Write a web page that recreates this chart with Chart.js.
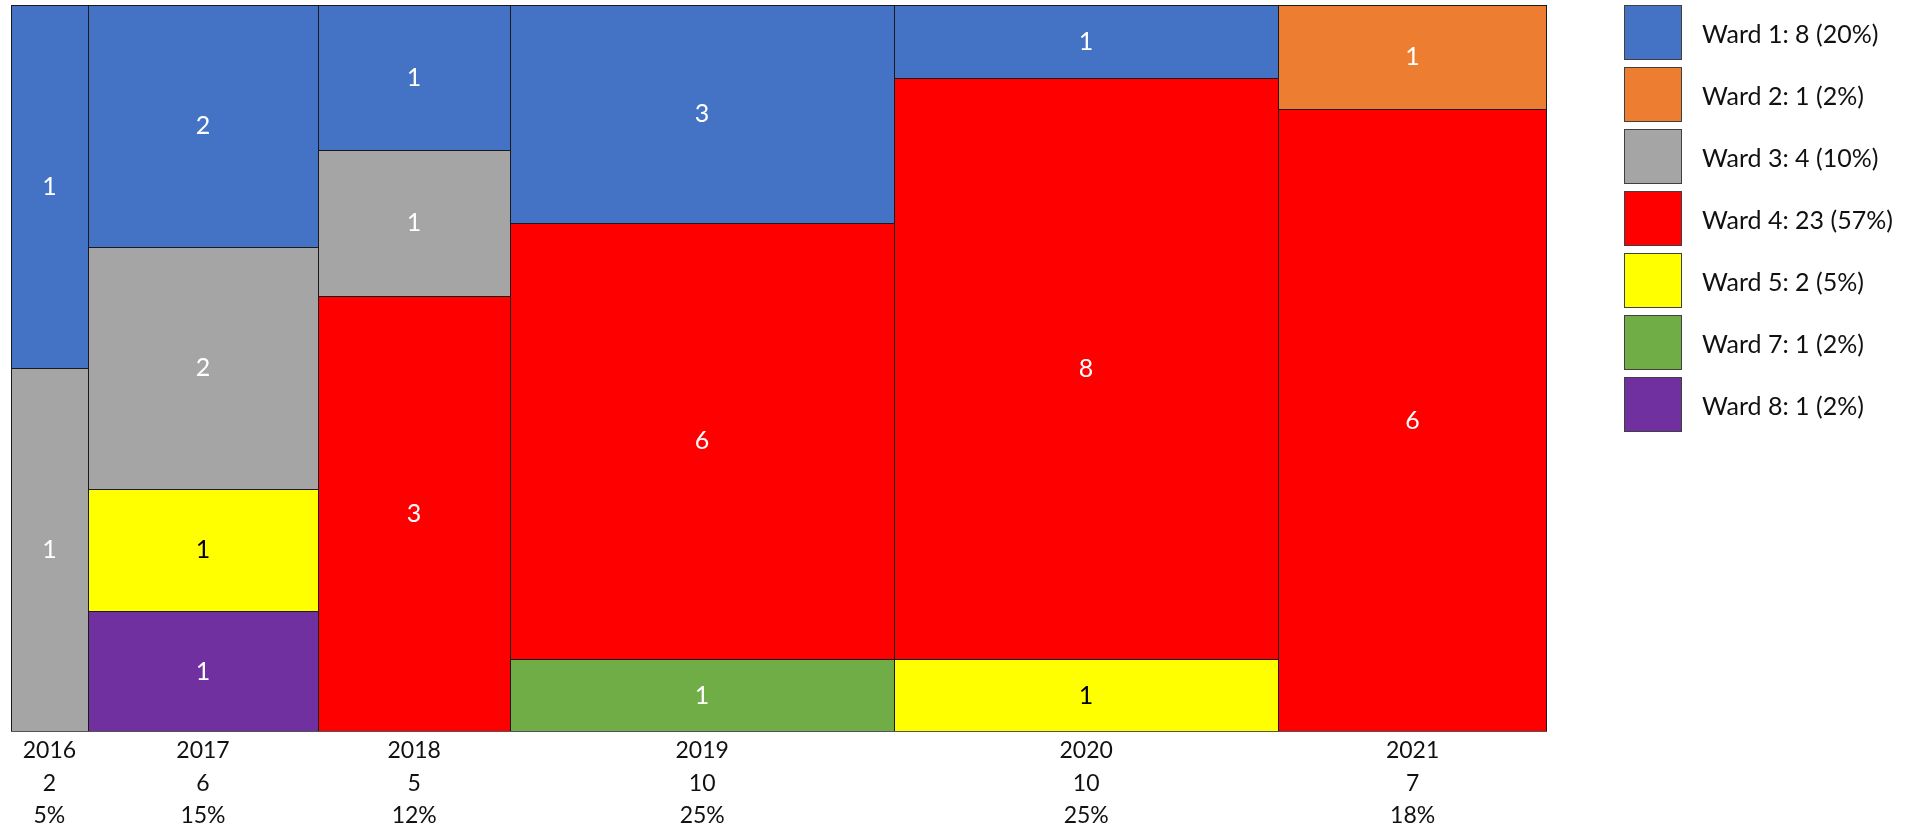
<!DOCTYPE html>
<html>
<head>
<meta charset="utf-8">
<title>Wards by year</title>
<script src="https://cdn.jsdelivr.net/npm/chart.js@4/dist/chart.umd.min.js"></script>
<style>
    body { margin: 0; background: #fff; font-family: Lato, "Open Sans", sans-serif; }
    #wrap { position: relative; width: 1915px; height: 835px; }
    #legend { position: absolute; left: 1624px; top: 5px; }
    .item { display: flex; align-items: center; height: 55px; margin-bottom: 7px; }
    .swatch { width: 58px; height: 55px; box-sizing: border-box; border: 1px solid #404040; }
    .label { margin-left: 20px; font-size: 25px; color: #111; white-space: nowrap; }
</style>
</head>
<body>
<div id="wrap">
    <canvas id="wardChart"></canvas>
    <div id="legend"></div>
</div>
<script>
const years = ['2016', '2017', '2018', '2019', '2020', '2021'];
const yearShare = ['5%', '15%', '12%', '25%', '25%', '18%'];

const wards = ['Ward 1', 'Ward 2', 'Ward 3', 'Ward 4', 'Ward 5', 'Ward 7', 'Ward 8'];
const wardShare = ['20%', '2%', '10%', '57%', '5%', '2%', '2%'];
const wardColors = ['#4472C4', '#ED7D31', '#A5A5A5', '#FF0000', '#FFFF00', '#70AD47', '#7030A0'];

// counts per ward, one value per year
const ward1 = [1, 2, 1, 3, 1, 0];
const ward2 = [0, 0, 0, 0, 0, 1];
const ward3 = [1, 2, 1, 0, 0, 0];
const ward4 = [0, 0, 3, 6, 8, 6];
const ward5 = [0, 1, 0, 0, 1, 0];
const ward7 = [0, 0, 0, 1, 0, 0];
const ward8 = [0, 1, 0, 0, 0, 0];
const wardCounts = [ward1, ward2, ward3, ward4, ward5, ward7, ward8];

const yearTotals = years.map((y, i) => wardCounts.reduce((s, w) => s + w[i], 0));
const grandTotal = yearTotals.reduce((a, b) => a + b, 0);

// column edges along the x axis (cumulative counts)
const colStart = [];
let acc = 0;
yearTotals.forEach(t => { colStart.push(acc); acc += t; });
const colMid = yearTotals.map((t, i) => colStart[i] + t / 2);

// stack from the bottom: Ward 8 first, Ward 1 on top
const stackBase = years.map(() => 0);
const pointsByWard = wards.map(() => []);
for (let w = wards.length - 1; w >= 0; w--) {
    years.forEach((y, i) => {
        const n = wardCounts[w][i];
        if (!n) return;
        const lo = stackBase[i];
        const hi = lo + n / yearTotals[i];
        stackBase[i] = hi;
        pointsByWard[w].push({ x: colMid[i], y: [lo, hi], col: i, count: n });
    });
}

const datasets = wards.map((name, w) => ({
    label: name + ': ' + wardCounts[w].reduce((a, b) => a + b, 0) + ' (' + wardShare[w] + ')',
    data: pointsByWard[w],
    backgroundColor: wardColors[w],
    borderColor: '#1a1a1a',
    borderSkipped: false,
    borderWidth: ctx => ({
        top: 1,
        left: 1,
        right: ctx.raw.col === years.length - 1 ? 1 : 0,
        bottom: ctx.raw.y[0] === 0 ? 1 : 0
    })
}));

// give each column its own width: start..end of its share on the x scale
const mosaicWidths = {
    id: 'mosaicWidths',
    afterDatasetsUpdate(chart) {
        const xs = chart.scales.x, ys = chart.scales.y;
        chart.data.datasets.forEach((ds, d) => {
            chart.getDatasetMeta(d).data.forEach((el, k) => {
                const p = ds.data[k];
                const left = Math.round(xs.getPixelForValue(colStart[p.col]));
                const right = Math.round(xs.getPixelForValue(colStart[p.col] + yearTotals[p.col]));
                el.x = (left + right) / 2;
                el.width = right - left;
                el.y = Math.round(ys.getPixelForValue(p.y[1]));
                el.base = Math.round(ys.getPixelForValue(p.y[0]));
                el.height = el.base - el.y;
            });
        });
    },
    afterDatasetsDraw(chart) {
        const ctx = chart.ctx;
        ctx.save();
        ctx.font = '25px Lato, "Open Sans", sans-serif';
        ctx.textAlign = 'center';
        ctx.textBaseline = 'middle';
        chart.data.datasets.forEach((ds, d) => {
            chart.getDatasetMeta(d).data.forEach((el, k) => {
                ctx.fillStyle = ds.backgroundColor === '#FFFF00' ? '#000' : '#fff';
                ctx.fillText(String(ds.data[k].count), el.x, (el.y + el.base) / 2);
            });
        });
        ctx.restore();
    }
};

new Chart(document.getElementById('wardChart'), {
    type: 'bar',
    data: { datasets },
    options: {
        responsive: true,
        maintainAspectRatio: false,
        animation: false,
        events: [],
        layout: { padding: { left: 11, right: 368, top: 5, bottom: 0 } },
        plugins: {
            legend: { display: false },
            tooltip: { enabled: false }
        },
        scales: {
            x: {
                type: 'linear',
                offset: false,
                min: 0,
                max: grandTotal,
                grid: { display: false, drawTicks: false, offset: false },
                border: { display: false },
                afterBuildTicks: axis => { axis.ticks = colMid.map(v => ({ value: v })); },
                ticks: {
                    autoSkip: false,
                    maxRotation: 0,
                    padding: 3,
                    color: '#111',
                    font: { family: 'Lato, "Open Sans", sans-serif', size: 23, lineHeight: 1.41 },
                    callback: (value, i) => [years[i], String(yearTotals[i]), yearShare[i]]
                }
            },
            y: {
                type: 'linear',
                min: 0,
                max: 1,
                display: false
            }
        }
    },
    plugins: [mosaicWidths]
});

// legend list built from the datasets
const legendBox = document.getElementById('legend');
datasets.forEach(ds => {
    const item = document.createElement('div');
    item.className = 'item';
    const sw = document.createElement('div');
    sw.className = 'swatch';
    sw.style.background = ds.backgroundColor;
    const txt = document.createElement('span');
    txt.className = 'label';
    txt.textContent = ds.label;
    item.appendChild(sw);
    item.appendChild(txt);
    legendBox.appendChild(item);
});
</script>
</body>
</html>
